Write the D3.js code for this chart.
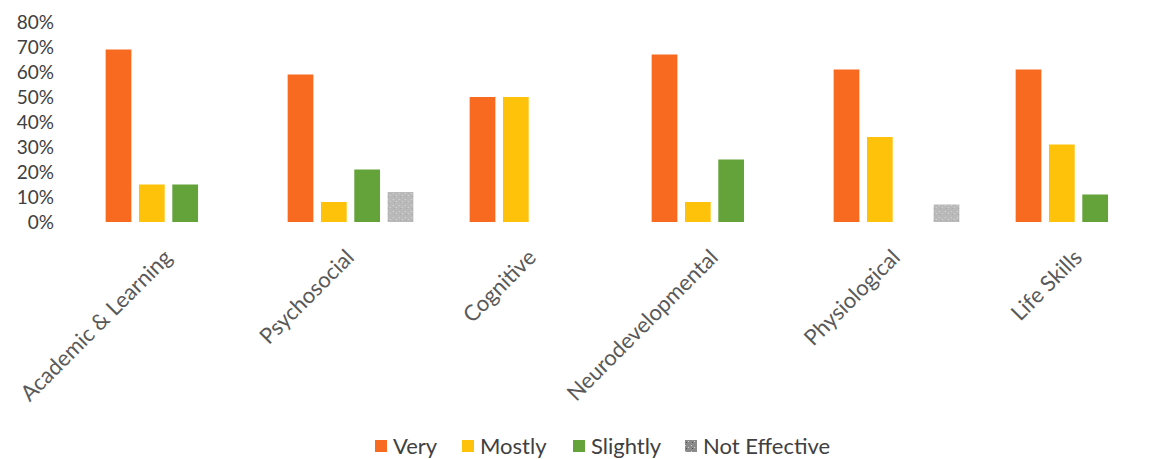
<!DOCTYPE html>
<html>
<head>
<meta charset="utf-8">
<script src="https://cdn.jsdelivr.net/npm/d3@7"></script>
<style>
  html, body { margin: 0; padding: 0; background: #fff; }
  svg { display: block; font-family: Lato, "Open Sans", sans-serif; }
</style>
</head>
<body>
<svg id="chart" width="1151" height="459"></svg>
<script>
// Effectiveness ratings per outcome domain (share of studies)
const categories = ["Academic & Learning", "Psychosocial", "Cognitive", "Neurodevelopmental", "Physiological", "Life Skills"];
const seriesNames = ["Very", "Mostly", "Slightly", "Not Effective"];
const veryValues = [0.69, 0.59, 0.50, 0.67, 0.61, 0.61];
const mostlyValues = [0.15, 0.08, 0.50, 0.08, 0.34, 0.31];
const slightlyValues = [0.15, 0.21, 0, 0.25, 0, 0.11];
const notEffectiveValues = [0, 0.12, 0, 0, 0.07, 0];
const yTicks = [0, 0.1, 0.2, 0.3, 0.4, 0.5, 0.6, 0.7, 0.8];

const seriesValues = [veryValues, mostlyValues, slightlyValues, notEffectiveValues];
const colors = ["#F76A1F", "#FFC20A", "#64A33A", "url(#speckle)"];
const legendColors = ["#F76A1F", "#FFC20A", "#64A33A", "url(#speckleDark)"];

const svg = d3.select("#chart");

// speckled grey fills for the last series
const defs = svg.append("defs");
function speckle(id, base, light, dark) {
  const pat = defs.append("pattern").attr("id", id).attr("patternUnits", "userSpaceOnUse")
    .attr("width", 6).attr("height", 6);
  pat.append("rect").attr("width", 6).attr("height", 6).attr("fill", base);
  pat.append("rect").attr("x", 1).attr("y", 1).attr("width", 1).attr("height", 1).attr("fill", light);
  pat.append("rect").attr("x", 4).attr("y", 3).attr("width", 1).attr("height", 1).attr("fill", light);
  pat.append("rect").attr("x", 2).attr("y", 4).attr("width", 1).attr("height", 1).attr("fill", dark);
}
speckle("speckle", "#b9b9b9", "#d8d8d8", "#a5a5a5");
speckle("speckleDark", "#8a8a8a", "#d0d0d0", "#505050");

const x0 = d3.scaleBand().domain(categories).range([77.5, 1169.5]).paddingInner(0).paddingOuter(0);
const x1 = d3.scaleBand().domain(seriesNames).range([0, 133.3]).paddingInner(0.228).paddingOuter(0.114);
const y = d3.scaleLinear().domain([0, 0.8]).range([222, 22]);

// y axis labels
const yAxis = d3.axisLeft(y).tickValues(yTicks).tickFormat(d3.format(".0%")).tickSize(0).tickPadding(0);
const yg = svg.append("g").attr("transform", "translate(54,0)").call(yAxis);
yg.select(".domain").remove();
yg.selectAll("text").attr("font-size", 19).attr("fill", "#404040").attr("font-family", "Lato, sans-serif").attr("dy", "0.35em");

// bars
const groups = svg.append("g").selectAll("g").data(categories).join("g")
  .attr("transform", d => `translate(${x0(d) + x0.bandwidth() / 2 - 66.65},0)`);
groups.selectAll("rect")
  .data((c, i) => seriesNames.map((s, k) => ({ s, k, v: seriesValues[k][i] })).filter(d => d.v > 0))
  .join("rect")
  .attr("x", d => x1(d.s))
  .attr("width", x1.bandwidth())
  .attr("y", d => y(d.v))
  .attr("height", d => y(0) - y(d.v))
  .attr("fill", d => colors[d.k]);

// category labels, rotated
const xg = svg.append("g");
xg.selectAll("text").data(categories).join("text")
  .attr("transform", d => `translate(${x0(d) + x0.bandwidth() / 2 - 6},248) rotate(-45)`)
  .attr("text-anchor", "end")
  .attr("dy", "0.7em")
  .attr("font-size", 22)
  .attr("fill", "#595959")
  .text(d => d);

// legend
const legendX = [375, 462, 573, 685];
const lg = svg.append("g");
seriesNames.forEach((s, k) => {
  lg.append("rect").attr("x", legendX[k]).attr("y", 440).attr("width", 12).attr("height", 12)
    .attr("fill", legendColors[k]);
  lg.append("text").attr("x", legendX[k] + 18).attr("y", 446).attr("dy", "0.35em")
    .attr("font-size", 22).attr("fill", "#404040").text(s);
});
</script>
</body>
</html>
